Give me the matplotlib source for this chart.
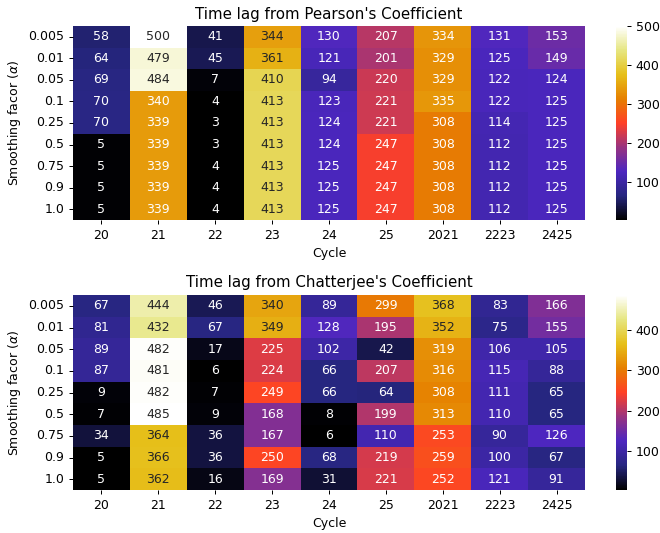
import numpy as np
import pandas as pd
import seaborn as sns
import matplotlib
matplotlib.use('Agg')
import matplotlib.pyplot as plt

cycles = ['20', '21', '22', '23', '24', '25', '2021', '2223', '2425']
alphas = ['0.005', '0.01', '0.05', '0.1', '0.25', '0.5', '0.75', '0.9', '1.0']

# Pearson time lags (rows = alpha, cols = cycle)
pearson = [
    [58, 500, 41, 344, 130, 207, 334, 131, 153],
    [64, 479, 45, 361, 121, 201, 329, 125, 149],
    [69, 484, 7, 410, 94, 220, 329, 122, 124],
    [70, 340, 4, 413, 123, 221, 335, 122, 125],
    [70, 339, 3, 413, 124, 221, 308, 114, 125],
    [5, 339, 3, 413, 124, 247, 308, 112, 125],
    [5, 339, 4, 413, 125, 247, 308, 112, 125],
    [5, 339, 4, 413, 125, 247, 308, 112, 125],
    [5, 339, 4, 413, 125, 247, 308, 112, 125],
]

# Chatterjee time lags
chatterjee = [
    [67, 444, 46, 340, 89, 299, 368, 83, 166],
    [81, 432, 67, 349, 128, 195, 352, 75, 155],
    [89, 482, 17, 225, 102, 42, 319, 106, 105],
    [87, 481, 6, 224, 66, 207, 316, 115, 88],
    [9, 482, 7, 249, 66, 64, 308, 111, 65],
    [7, 485, 9, 168, 8, 199, 313, 110, 65],
    [34, 364, 36, 167, 6, 110, 253, 90, 126],
    [5, 366, 36, 250, 68, 219, 259, 100, 67],
    [5, 362, 16, 169, 31, 221, 252, 121, 91],
]

df_p = pd.DataFrame(pearson, index=alphas, columns=cycles)
df_c = pd.DataFrame(chatterjee, index=alphas, columns=cycles)

W, H = 660, 533
DPI = 90  # original was rendered larger and scaled down
fig = plt.figure(figsize=(W / DPI, H / DPI), dpi=DPI)

# pixel boxes (left, top, right, bottom)
boxes = [(73, 26, 585, 220), (73, 295, 585, 490)]
cbar_x = (616, 627)

for (l, t, r, b), df, name in zip(boxes, [df_p, df_c], ["Pearson's", "Chatterjee's"]):
    ax = fig.add_axes([l / W, 1 - b / H, (r - l) / W, (b - t) / H])
    cax = fig.add_axes([cbar_x[0] / W, 1 - b / H, (cbar_x[1] - cbar_x[0]) / W, (b - t) / H])
    sns.heatmap(df, ax=ax, cbar_ax=cax, cmap='CMRmap', annot=True, fmt='d')
    ax.set_title(f'Time lag from {name} Coefficient')
    ax.set_xlabel('Cycle')
    ax.set_ylabel(r'Smoothing facor ($\alpha$)')
    ax.tick_params(axis='y', rotation=0)

plt.savefig('out.png', dpi=DPI)
